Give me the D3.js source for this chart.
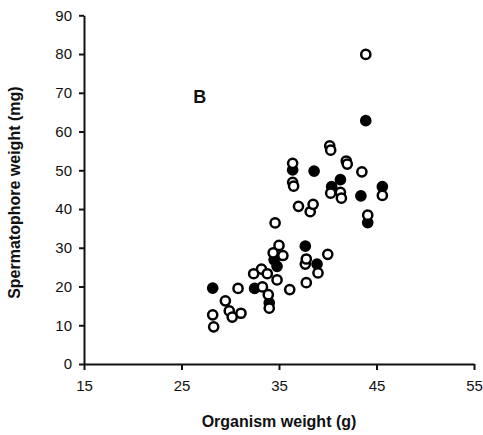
<!DOCTYPE html>
<html>
<head>
<meta charset="utf-8">
<script src="https://cdn.jsdelivr.net/npm/d3@7"></script>
<style>
  html, body { margin: 0; padding: 0; background: #fff; }
  svg { display: block; font-family: "Liberation Sans", Arial, sans-serif; }
</style>
</head>
<body>
<svg id="chart" width="483" height="435"></svg>
<script>
// values: organism weight (g), spermatophore weight (mg)
const openPoints = [
  [43.9, 79.9], [40.2, 56.3], [40.3, 55.2], [41.9, 52.4], [42.0, 51.6],
  [43.5, 49.6], [36.4, 51.8], [36.4, 46.9], [36.5, 45.9], [37.0, 40.7],
  [38.2, 39.3], [38.5, 41.2], [40.3, 44.1], [41.3, 44.3], [41.4, 42.8],
  [45.6, 43.5], [44.1, 38.4], [34.6, 36.4], [35.0, 30.6], [34.4, 28.7],
  [35.4, 28.0], [34.8, 21.7], [40.0, 28.3], [37.7, 25.8], [37.8, 27.1],
  [37.8, 21.0], [39.0, 23.5], [36.1, 19.2], [33.2, 24.5], [32.4, 23.3],
  [33.8, 23.3], [33.3, 19.9], [33.9, 17.9], [34.0, 14.4], [30.8, 19.5],
  [29.5, 16.3], [29.9, 13.7], [30.2, 12.1], [31.1, 13.1], [28.2, 12.7],
  [28.3, 9.6]
];

const filledPoints = [
  [28.2, 19.6], [32.5, 19.5], [34.5, 26.9], [34.8, 25.2], [34.0, 15.8],
  [36.4, 50.1], [38.6, 49.8], [43.9, 62.8], [40.4, 45.8], [41.3, 47.6],
  [43.4, 43.4], [45.6, 45.8], [44.1, 36.5], [37.7, 30.4], [38.9, 25.8]
];

const xTicks = [15, 25, 35, 45, 55];
const yTicks = [0, 10, 20, 30, 40, 50, 60, 70, 80, 90];
const panelLabel = { text: 'B', x: 26.2, y: 67.4 };

const svg = d3.select('#chart');
const x = d3.scaleLinear().domain([15, 55]).range([84, 474]);
const y = d3.scaleLinear().domain([0, 90]).range([364, 15.3]);

const xAxis = svg.append('g')
  .attr('transform', `translate(0,${y(0)})`)
  .call(d3.axisBottom(x).tickValues(xTicks).tickSize(6).tickPadding(10).tickSizeOuter(0));

const yAxis = svg.append('g')
  .attr('transform', `translate(${x(15)},0)`)
  .call(d3.axisLeft(y).tickValues(yTicks).tickSize(5).tickPadding(7).tickSizeOuter(0));

[xAxis, yAxis].forEach(axis => {
  axis.select('.domain').attr('stroke', '#111').attr('stroke-width', 2);
  axis.selectAll('.tick line').attr('stroke', '#111').attr('stroke-width', 2);
  axis.selectAll('.tick text')
    .attr('fill', '#111')
    .attr('font-size', '15px')
    .attr('font-family', '"Liberation Sans", Arial, sans-serif');
});

svg.append('text')
  .attr('x', (x(15) + x(55)) / 2)
  .attr('y', 427)
  .attr('text-anchor', 'middle')
  .attr('font-size', '16px')
  .attr('font-weight', 'bold')
  .attr('fill', '#111')
  .text('Organism weight (g)');

svg.append('text')
  .attr('transform', `translate(20,${(y(0) + y(90)) / 2 + 3}) rotate(-90)`)
  .attr('text-anchor', 'middle')
  .attr('font-size', '16px')
  .attr('font-weight', 'bold')
  .attr('fill', '#111')
  .text('Spermatophore weight (mg)');

svg.append('text')
  .attr('x', x(panelLabel.x))
  .attr('y', y(panelLabel.y))
  .attr('font-size', '18px')
  .attr('font-weight', 'bold')
  .attr('fill', '#111')
  .text(panelLabel.text);

const marks = svg.append('g');

marks.selectAll('circle.filled')
  .data(filledPoints)
  .join('circle')
  .attr('class', 'filled')
  .attr('cx', d => x(d[0]))
  .attr('cy', d => y(d[1]))
  .attr('r', 4.6)
  .attr('fill', '#000')
  .attr('stroke', '#000')
  .attr('stroke-width', 2.5);

marks.selectAll('circle.open')
  .data(openPoints)
  .join('circle')
  .attr('class', 'open')
  .attr('cx', d => x(d[0]))
  .attr('cy', d => y(d[1]))
  .attr('r', 4.6)
  .attr('fill', '#fff')
  .attr('stroke', '#000')
  .attr('stroke-width', 2.5);
</script>
</body>
</html>
